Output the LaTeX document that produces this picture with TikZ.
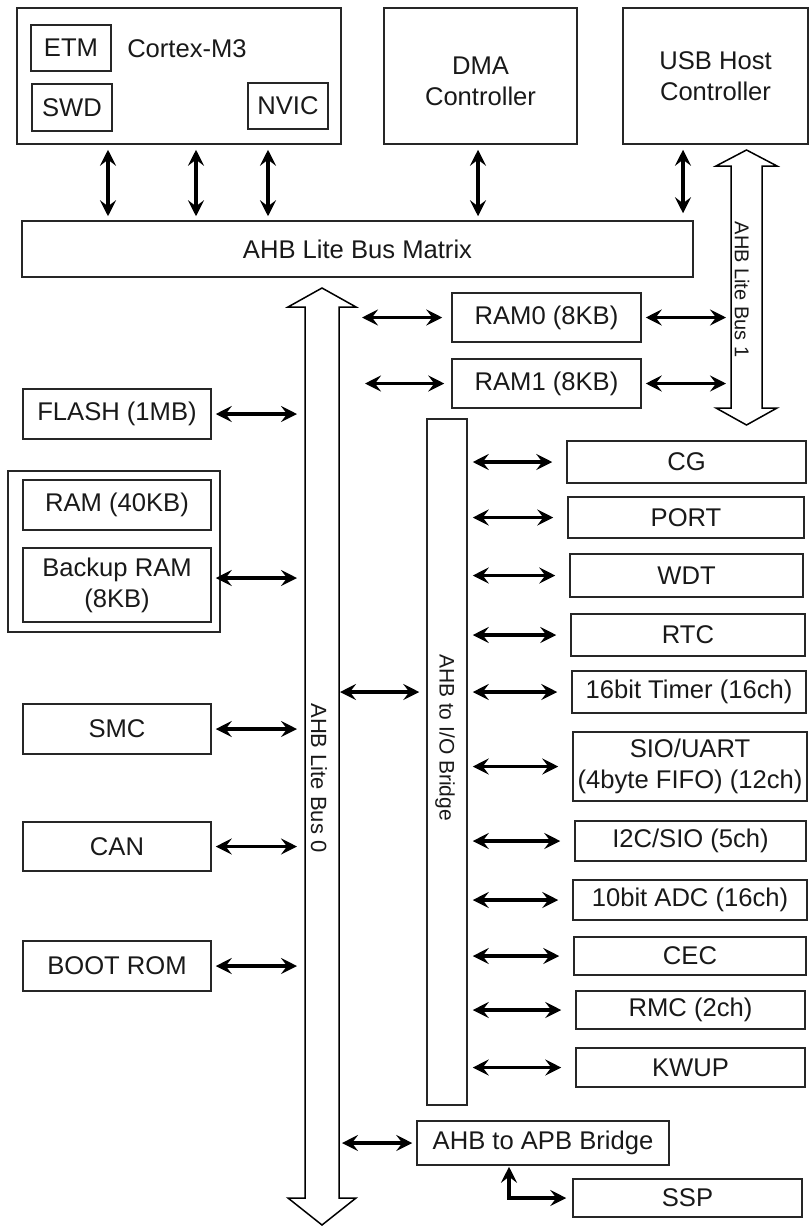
\documentclass[tikz,border=0pt]{standalone}
\usepackage{fontspec}
\setmainfont{Liberation Sans}
\usetikzlibrary{arrows.meta}

\begin{document}
\begin{tikzpicture}[x=0.5pt, y=-0.5pt,
	blk/.style={draw=black!85, line width=0.75pt, inner sep=0pt, align=center, text=black!90, font=\fontsize{12.8}{15.5}\selectfont},
	lbl/.style={inner sep=0pt, align=center, text=black!90, font=\fontsize{12.8}{15.5}\selectfont},
	boxsize/.style 2 args={minimum width=#1*0.5pt, minimum height=#2*0.5pt},
	link/.style={line width=1.8pt, {Stealth[length=8pt,width=8pt,inset=3pt]}-{Stealth[length=8pt,width=8pt,inset=3pt]}},
	bus/.style={draw=black, line width=0.75pt, fill=white},
	buslbl/.style={rotate=-90, inner sep=0pt, text=black!90}]
	\useasboundingbox (0,0) rectangle (809,1226);

	% masters
	\node[blk, boxsize={324}{136}] (cortex) at (179,76) {};
	\node[lbl] (cortexlbl) at (187,49) {Cortex-M3};
	\node[blk, boxsize={80}{46}] (etm) at (71,48) {ETM};
	\node[blk, boxsize={80}{47}] (swd) at (72,107.5) {SWD};
	\node[blk, boxsize={80}{46}] (nvic) at (288,106) {NVIC};
	\node[blk, boxsize={193}{136}] (dma) at (480.5,76) {};
	\node[lbl] (dmalbl) at (480.5,81) {DMA\\Controller};
	\node[blk, boxsize={185}{136}] (usb) at (715.5,76) {USB Host\\Controller};
	\node[blk, boxsize={671}{56}] (matrix) at (357.5,249) {AHB Lite Bus Matrix};

	% buses
	\draw[bus] (322,288) -- (356,307) -- (339,307) -- (339,1198) -- (356,1198) -- (322,1225) -- (288,1198) -- (305,1198) -- (305,307) -- (288,307) -- cycle;
	\node[buslbl, font=\fontsize{11}{13}\selectfont] (bus0) at (319,778) {AHB Lite Bus 0};
	\draw[bus] (746.5,150) -- (777,166) -- (762,166) -- (762,408) -- (777,408) -- (746.5,425) -- (716,408) -- (731,408) -- (731,166) -- (716,166) -- cycle;
	\node[buslbl, font=\fontsize{10}{12}\selectfont] (bus1) at (742,289.5) {AHB Lite Bus 1};
	\coordinate (b0w) at (305,0);
	\coordinate (b0e) at (339,0);
	\coordinate (b1w) at (731,0);

	% memories
	\node[blk, boxsize={189}{49}] (ram0) at (546.5,317.5) {RAM0 (8KB)};
	\node[blk, boxsize={189}{49}] (ram1) at (546.5,383.5) {RAM1 (8KB)};
	\node[blk, boxsize={188}{50}] (flash) at (117,414) {FLASH (1MB)};
	\node[blk, boxsize={212}{161}] (ramgrp) at (114,551.5) {};
	\node[blk, boxsize={188}{50}] (ram40) at (117,505) {RAM (40KB)};
	\node[blk, boxsize={188}{74}] (backup) at (117,585) {Backup RAM\\(8KB)};
	\node[blk, boxsize={188}{50}] (smc) at (117,729) {SMC};
	\node[blk, boxsize={188}{49}] (can) at (117,846.5) {CAN};
	\node[blk, boxsize={188}{50}] (boot) at (117,966) {BOOT ROM};

	% bridges
	\node[blk, boxsize={40}{686}] (iob) at (447,762) {};
	\node[buslbl, font=\fontsize{10.5}{12.5}\selectfont] (ioblbl) at (445,737.5) {AHB to I/O Bridge};
	\node[blk, boxsize={252}{44}] (apb) at (543,1143) {AHB to APB Bridge};

	% peripherals
	\node[blk, boxsize={239}{42}] (cg) at (686.5,462) {CG};
	\node[blk, boxsize={236}{41}] (port) at (686,517.5) {PORT};
	\node[blk, boxsize={233}{43}] (wdt) at (686.5,575.5) {WDT};
	\node[blk, boxsize={234}{42}] (rtc) at (688,635) {RTC};
	\node[blk, boxsize={234}{42}] (timer) at (689,692) {16bit Timer (16ch)};
	\node[blk, boxsize={234}{69}] (sio) at (690,766.5) {SIO/UART\\(4byte FIFO) (12ch)};
	\node[blk, boxsize={231}{40}] (i2c) at (690.5,841) {I2C/SIO (5ch)};
	\node[blk, boxsize={234}{40}] (adc) at (690,900) {10bit ADC (16ch)};
	\node[blk, boxsize={232}{38}] (cec) at (690,956) {CEC};
	\node[blk, boxsize={229}{38}] (rmc) at (690.5,1010) {RMC (2ch)};
	\node[blk, boxsize={229}{39}] (kwup) at (690.5,1067.5) {KWUP};
	\node[blk, boxsize={229}{38}] (ssp) at (687.5,1198) {SSP};

	% masters to matrix
	\draw[link, shorten <=2.5pt, shorten >=2pt] (cortex.south -| 108,0) -- (matrix.north -| 108,0);
	\draw[link, shorten <=2.5pt, shorten >=2pt] (cortex.south -| 196,0) -- (matrix.north -| 196,0);
	\draw[link, shorten <=2.5pt, shorten >=2pt] (cortex.south -| 268,0) -- (matrix.north -| 268,0);
	\draw[link, shorten <=2.5pt, shorten >=2pt] (dma.south -| 478,0) -- (matrix.north -| 478,0);
	\draw[link, shorten <=2.5pt, shorten >=3.5pt] (usb.south -| 683,0) -- (matrix.north -| 683,0);

	% bus 0 left side
	\draw[link, shorten <=2pt, shorten >=4pt] (flash.east) -- (flash.east -| b0w);
	\draw[link, shorten <=2pt, shorten >=4pt] ([yshift=3.5pt]backup.east) -- ([yshift=3.5pt]backup.east -| b0w);
	\draw[link, shorten <=2pt, shorten >=4pt] (smc.east) -- (smc.east -| b0w);
	\draw[link, shorten <=2pt, shorten >=4pt] (can.east) -- (can.east -| b0w);
	\draw[link, shorten <=2pt, shorten >=4pt] (boot.east) -- (boot.east -| b0w);

	% bus 0 right side
	\draw[link, shorten <=11.5pt, shorten >=4.5pt] (ram0.west -| b0e) -- (ram0.west);
	\draw[link, shorten <=13pt, shorten >=3.5pt] (ram1.west -| b0e) -- (ram1.west);
	\draw[link, shorten <=0.5pt, shorten >=3.5pt] (b0e |- timer.west) -- (iob.west |- timer.west);
	\draw[link, shorten <=1.5pt, shorten >=2pt] (apb.west -| b0e) -- (apb.west);

	% bus 1
	\draw[link, shorten <=2pt, shorten >=2.5pt] (ram0.east) -- (ram0.east -| b1w);
	\draw[link, shorten <=2pt, shorten >=2.5pt] (ram1.east) -- (ram1.east -| b1w);

	% I/O bridge to peripherals
	\foreach \p in {cg,port,wdt,rtc,timer,sio,i2c,adc,cec,rmc,kwup}
		\draw[link, shorten <=2.5pt, shorten >=7pt] (iob.east |- \p.west) -- (\p.west);

	% APB bridge to SSP
	\draw[link, shorten <=0.5pt, shorten >=3pt] (apb.south -| 509,0) |- (ssp.west);
\end{tikzpicture}
\end{document}
